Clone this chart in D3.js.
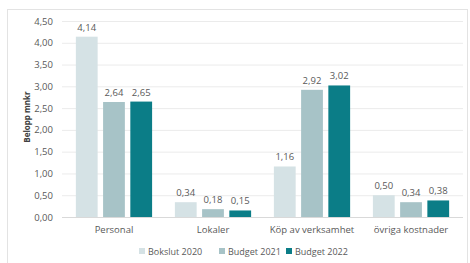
<!DOCTYPE html>
<html>
<head>
<meta charset="utf-8">
<script src="https://cdn.jsdelivr.net/npm/d3@7"></script>
<style>
  body { margin: 0; background: #fff; }
  text { font-family: "Open Sans", "Liberation Sans", sans-serif; fill: #595959; }
</style>
</head>
<body>
<div id="chart-area"></div>
<script>
const categories = ["Personal", "Lokaler", "Köp av verksamhet", "övriga kostnader"]
const seriesNames = ["Bokslut 2020", "Budget 2021", "Budget 2022"]
const bokslut2020 = [4.14, 0.34, 1.16, 0.50]
const budget2021 = [2.64, 0.18, 2.92, 0.34]
const budget2022 = [2.65, 0.15, 3.02, 0.38]
const yTicks = [0, 0.5, 1, 1.5, 2, 2.5, 3, 3.5, 4, 4.5]
const colors = ["#d5e2e5", "#a7c3c7", "#0b7d87"]

const W = 470, H = 263
const MARGIN = { LEFT: 62, RIGHT: 7, TOP: 21, BOTTOM: 46 }
const WIDTH = W - MARGIN.LEFT - MARGIN.RIGHT
const HEIGHT = H - MARGIN.TOP - MARGIN.BOTTOM

const svg = d3.select("#chart-area").append("svg")
  .attr("width", W).attr("height", H)

// chart frame
svg.append("rect")
  .attr("x", 7.5).attr("y", 9.5)
  .attr("width", 460).attr("height", 262)
  .attr("fill", "none").attr("stroke", "#e3e3e3")

const g = svg.append("g")
  .attr("transform", `translate(${MARGIN.LEFT}, ${MARGIN.TOP})`)

const series = [bokslut2020, budget2021, budget2022]
const data = categories.map((c, i) => ({ cat: c, vals: series.map(s => s[i]) }))

const x0 = d3.scaleBand().domain(categories).range([0, WIDTH])
  .paddingInner(0.23).paddingOuter(0.14)
const x1 = d3.scaleBand().domain(d3.range(3)).range([0, x0.bandwidth()])
  .paddingInner(0.2)
const y = d3.scaleLinear().domain([0, 4.5]).range([HEIGHT, 0])

const fmt = v => d3.format(".2f")(v).replace(".", ",")

// grid
g.append("g")
  .call(d3.axisLeft(y).tickValues(yTicks).tickSize(-WIDTH).tickFormat(fmt).tickPadding(9))
  .call(a => a.select(".domain").remove())
  .call(a => a.selectAll("line").attr("stroke", "#ebebeb"))
  .call(a => a.selectAll("text").attr("font-size", "9.5px").style("fill", "#595959"))

g.append("line")
  .attr("x1", 0).attr("x2", WIDTH)
  .attr("y1", HEIGHT + 0.5).attr("y2", HEIGHT + 0.5)
  .attr("stroke", "#d9d9d9")

// x axis labels
g.append("g")
  .attr("transform", `translate(0, ${HEIGHT})`)
  .call(d3.axisBottom(x0).tickSize(0).tickPadding(9))
  .call(a => a.select(".domain").remove())
  .call(a => a.selectAll("text").attr("font-size", "9.5px").style("fill", "#595959"))

// y label
g.append("text")
  .attr("x", -(HEIGHT / 2) + 2)
  .attr("y", -32)
  .attr("font-size", "8px")
  .attr("font-weight", "bold")
  .attr("text-anchor", "middle")
  .attr("transform", "rotate(-90)")
  .style("fill", "#404040")
  .text("Belopp mnkr")

const groups = g.selectAll(".grp").data(data).enter().append("g")
  .attr("transform", d => `translate(${x0(d.cat)}, 0)`)

groups.selectAll("rect").data(d => d.vals).enter().append("rect")
  .attr("x", (d, i) => x1(i))
  .attr("y", d => y(d))
  .attr("width", x1.bandwidth())
  .attr("height", d => HEIGHT - y(d))
  .attr("fill", (d, i) => colors[i])

groups.selectAll(".lbl").data(d => d.vals).enter().append("text")
  .attr("x", (d, i) => x1(i) + x1.bandwidth() / 2)
  .attr("y", d => y(d) - 6)
  .attr("text-anchor", "middle")
  .attr("font-size", "9.5px")
  .text(d => fmt(d))

// legend
const legendX = [139, 219, 286]
const legend = svg.append("g")
seriesNames.forEach((n, i) => {
  legend.append("rect")
    .attr("x", legendX[i]).attr("y", 248)
    .attr("width", 6).attr("height", 6)
    .attr("fill", colors[i])
  legend.append("text")
    .attr("x", legendX[i] + 9).attr("y", 254.5)
    .attr("font-size", "9px")
    .text(n)
})
</script>
</body>
</html>
